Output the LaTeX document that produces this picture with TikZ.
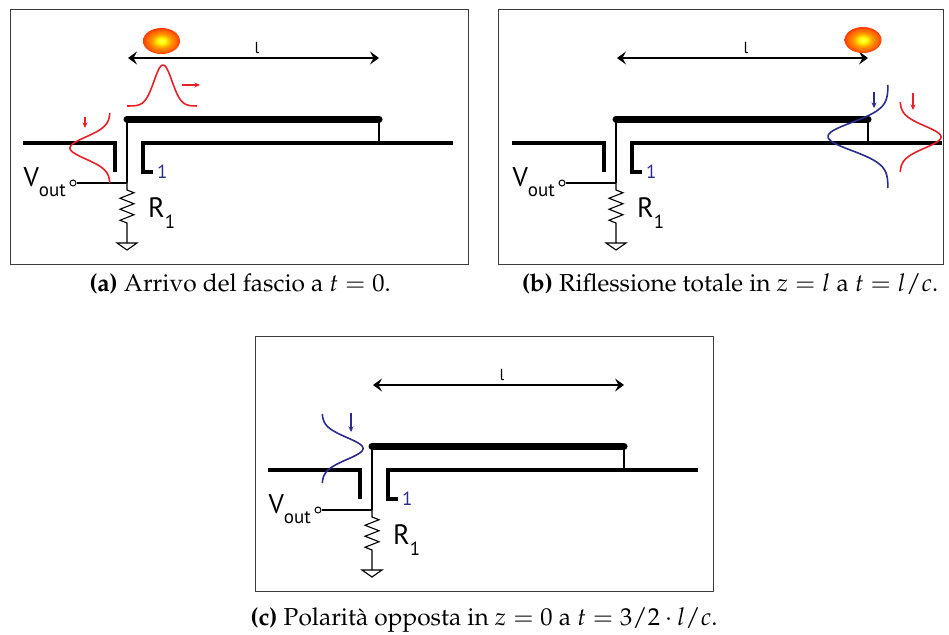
\documentclass[tikz,border=0pt]{standalone}
\usepackage[T1]{fontenc}
\usepackage{mathpazo}
\usepackage{fontspec}
\newfontfamily\labelfont{PT Sans}
\usetikzlibrary{arrows.meta,shapes.geometric}

\definecolor{pulsered}{RGB}{232,32,40}
\definecolor{pulseblue}{RGB}{44,44,140}
\definecolor{framegray}{RGB}{60,60,60}

% radial colour of the beam bunch
\pgfdeclareradialshading{beam}{\pgfpoint{0bp}{0bp}}{%
  color(0bp)=(yellow!60!white); color(5bp)=(yellow);
  color(13bp)=(orange!80!yellow); color(21bp)=(orange!75!red);
  color(25bp)=(red!55!orange); color(50bp)=(red!55!orange)}

\tikzset{
  frame/.style={draw=framegray, line width=1pt},
  strip/.style={line width=7pt, line cap=round},
  plane/.style={line width=4.4pt},
  wire/.style={line width=1.1pt},
  span/.style={line width=1.2pt,
    {Stealth[length=9pt,width=13pt,inset=3.5pt]}-{Stealth[length=9pt,width=13pt,inset=3.5pt]}},
  pulse/.style={line width=1.6pt},
  dropmark/.style={line width=1.1pt, -{Stealth[length=5.5pt,width=5pt]}},
  term/.style={circle, draw, fill=white, line width=1pt, minimum size=6pt, inner sep=0pt},
  lab/.style={inner sep=0pt},
  spot/.style={ellipse, shading=beam, minimum width=37pt, minimum height=26pt, inner sep=0pt},
  caption/.style={inner sep=0pt, anchor=base,
    font=\fontencoding{T1}\fontfamily{ppl}\fontsize{24.5}{29}\selectfont},
  % strip line over the ground plane, read out through R1
  tline/.pic={
    \coordinate (-o) at (0,0);
    \coordinate (-e) at (252,0);
    \coordinate (-post) at (252,24);
    \coordinate (-j) at (0,64);
    \coordinate (-r1) at (0,71);
    \coordinate (-r2) at (0,104);
    \coordinate (-g) at (0,124);
    \coordinate (-al) at (1,-61);
    \coordinate (-ar) at (252,-61);
    \draw[span] (-al) -- (-ar);
    \node[lab, anchor=base, font=\labelfont\fontsize{16}{16}\selectfont] (-len) at (130,-66) {l};
    \draw[strip] (-o) -- (-e);
    \draw[wire] (-o) -- (-j);
    \draw[wire] (-e) -- (-post);
    \draw[plane] (-104,24) -- (-12,24) -- (-12,53);
    \draw[plane] (26,53) -- (16,53) -- (16,24) -- (326,24);
    \node[term] (-vo) at (-54,64) {};
    \draw[wire] (-vo) -- (-j);
    \draw[wire, line join=miter] (-j) -- (-r1) -- ++(7,2.75) -- ++(-14,5.5) -- ++(14,5.5)
      -- ++(-14,5.5) -- ++(14,5.5) -- ++(-14,5.5) -- (-r2) -- (-g);
    \draw[wire, line join=miter] (-10,124) -- (10,124) -- (0,131) -- cycle;
    \node[lab, anchor=base east, font=\labelfont\fontsize{27}{27}\selectfont] (-vl) at (-61,67)
      {V\raisebox{-10pt}{\fontsize{19}{19}\selectfont out}};
    \node[lab, anchor=base west, font=\labelfont\fontsize{28}{28}\selectfont] (-rl) at (21,98)
      {R\raisebox{-11pt}{\fontsize{19}{19}\selectfont 1}};
    \node[lab, anchor=base west, text=pulseblue, font=\labelfont\fontsize{19}{19}\selectfont] (-one) at (30,59) {1};
  }
}

\begin{document}
\begin{tikzpicture}[x=1pt,y=-1pt]
\useasboundingbox (0,0) rectangle (949,634);

% panel frames
\draw[frame] (10,10) rectangle (468,264);
\draw[frame] (498,10) rectangle (943,264);
\draw[frame] (255,336) rectangle (713,591);

% the three snapshots of the strip line
\pic (A) at (127,119) {tline};
\pic (B) at (616,119) {tline};
\pic (C) at (372,446) {tline};

% (a) bunch arrives, pulse enters at z = 0
\begin{scope}[shift={(127,119)}]
  \node[spot] (A-bunch) at (34.5,-78) {};
  \draw[pulse, pulsered] plot[domain=0:70, samples=70]
    (\x, {-13-41*exp(-((\x-36)^2)/162)});
  \coordinate (A-p1) at (55,-34);
  \coordinate (A-p2) at (73,-34);
  \draw[dropmark, pulsered] (A-p1) -- (A-p2);
  \draw[pulse, pulsered] plot[domain=-6:64, samples=70]
    ({-17-40*exp(-((\x-29)^2)/242)}, \x);
  \coordinate (A-d1) at (-42,-2);
  \coordinate (A-d2) at (-42,9);
  \draw[dropmark, pulsered] (A-d1) -- (A-d2);
\end{scope}

% (b) total reflection at z = l
\begin{scope}[shift={(616,119)}]
  \node[spot] (B-bunch) at (247,-79) {};
  \draw[pulse, pulseblue] plot[domain=-34:69, samples=90]
    ({272-60*exp(-((\x-17.5)^2)/392)}, \x);
  \coordinate (B-d1) at (258,-27);
  \coordinate (B-d2) at (258,-11);
  \draw[dropmark, pulseblue] (B-d1) -- (B-d2);
  \draw[pulse, pulsered] plot[domain=-17:53, samples=70]
    ({284+41*exp(-((\x-18)^2)/242)}, \x);
  \coordinate (B-r1) at (297,-26);
  \coordinate (B-r2) at (297,-9);
  \draw[dropmark, pulsered] (B-r1) -- (B-r2);
\end{scope}

% (c) inverted pulse back at z = 0
\begin{scope}[shift={(372,446)}]
  \draw[pulse, pulseblue] plot[domain=-32:37, samples=70]
    ({-50+41*exp(-((\x-2.5)^2)/242)}, \x);
  \coordinate (C-d1) at (-21,-33);
  \coordinate (C-d2) at (-21,-14);
  \draw[dropmark, pulseblue] (C-d1) -- (C-d2);
\end{scope}

% captions
\node[caption] (capA) at (240,291) {\textbf{(a)} Arrivo del fascio a $t=0$.};
\node[caption] (capB) at (730,291) {\textbf{(b)} Riflessione totale in $z=l$ a $t=l/c$.};
\node[caption] (capC) at (484,625) {\textbf{(c)} Polarit\`a opposta in $z=0$ a $t=3/2\cdot l/c$.};
\end{tikzpicture}
\end{document}
